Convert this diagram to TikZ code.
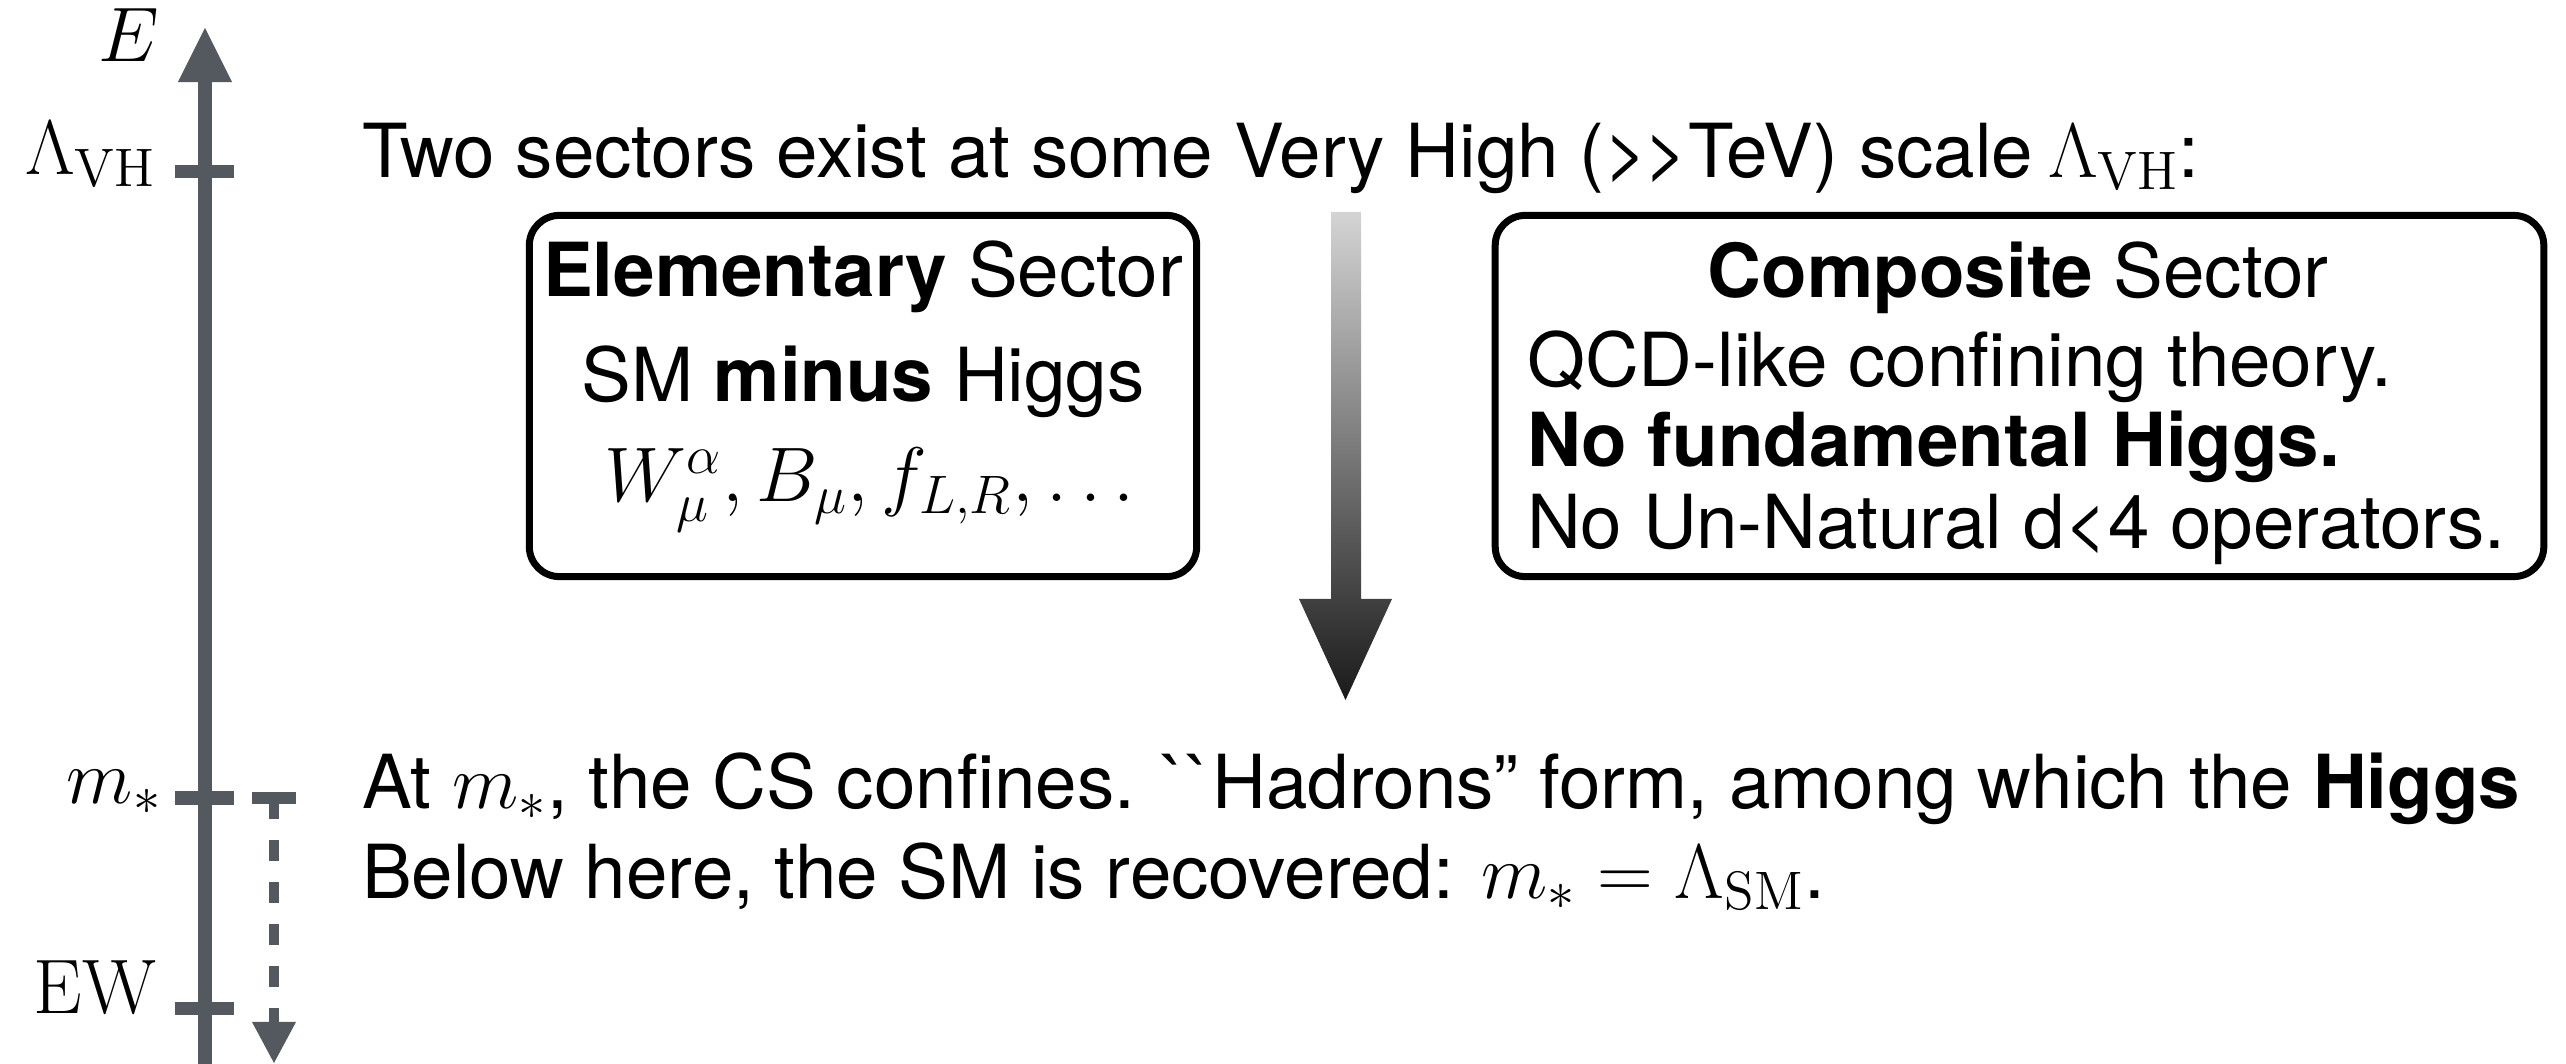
\documentclass[tikz,border=0pt]{standalone}
\usepackage{fix-cm}
\usepackage[no-math]{fontspec}
\setmainfont{TeX Gyre Heros}
\newfontfamily\rawheros{TeX Gyre Heros}[Ligatures=TeXOff]
\usetikzlibrary{arrows.meta}
\definecolor{axisgray}{RGB}{84,89,95}
\definecolor{gtop}{RGB}{212,212,212}
\definecolor{gbot}{RGB}{26,26,26}
\newcommand\mth[1]{{\fontsize{22}{26}\selectfont$#1$}}
\tikzset{
  every node/.style={font=\fontsize{21.2}{25}\selectfont, inner sep=0pt, outer sep=0pt},
  sectorbox/.style={draw=black, line width=0.07cm, rounded corners=0.3cm, fill=none},
  axisline/.style={draw=axisgray, line width=0.14cm, -{Triangle[width=0.54cm,length=0.54cm,line width=0pt]}},
  tickline/.style={draw=axisgray, line width=0.13cm},
  dashline/.style={draw=axisgray, line width=0.10cm, dash pattern=on 0.21cm off 0.21cm, -{Triangle[width=0.44cm,length=0.41cm,line width=0pt]}},
  barline/.style={draw=axisgray, line width=0.11cm},
}
\begin{document}
\begin{tikzpicture}[x=0.01cm, y=-0.01cm]
\useasboundingbox (0,0) rectangle (2566,1064);
% energy axis
\coordinate (axbot) at (205,1064);
\coordinate (axtop) at (205,28);
\draw[axisline] (axbot) -- (axtop);
% ticks
\coordinate (tVHl) at (175,172); \coordinate (tVHr) at (234,172);
\coordinate (tMl) at (175,798);  \coordinate (tMr) at (234,798);
\coordinate (tEWl) at (175,1008); \coordinate (tEWr) at (234,1008);
\draw[tickline] (tVHl) -- (tVHr);
\draw[tickline] (tMl) -- (tMr);
\draw[tickline] (tEWl) -- (tEWr);
% axis labels
\node[anchor=base east] (lblE) at (159,62) {\mth{E}};
\node[anchor=base east] (lblVH) at (156,175) {\mth{\Lambda_{\rm VH}}};
\node[anchor=base east] (lblM) at (162,803) {\mth{m_*}};
\node[anchor=base east] (lblEW) at (157,1013) {\mth{\rm EW}};
% dashed arrow
\coordinate (dbl) at (252,798); \coordinate (dbr) at (296,798);
\coordinate (dtop) at (274,798); \coordinate (dbot) at (274,1063);
\draw[barline] (dbl) -- (dbr);
\draw[dashline] (dtop) -- (dbot);
% title
\node[anchor=base west] (title) at (362,178) {Two sectors exist at some Very High (>\kern-0.05em>TeV) scale\kern0.2em\mth{\Lambda_{\rm VH}}:};
% elementary sector
\node[sectorbox, minimum width=6.67cm, minimum height=3.61cm] (elem) at (863,396) {};
\node[anchor=base] (e1) at (863,297) {\textbf{Elementary} Sector};
\node[anchor=base] (e2) at (863,402) {SM \textbf{minus} Higgs};
\node[anchor=base] (e3) at (870,502) {\mth{W^\alpha_\mu, B_\mu, f_{L,R}, \dots}};
% gradient arrow
\shade[top color=gtop, bottom color=gbot] (1331,212) -- (1361,212) -- (1361,599) -- (1392,599) -- (1345.5,700) -- (1299,599) -- (1331,599) -- cycle;
% composite sector
\node[sectorbox, minimum width=10.48cm, minimum height=3.61cm] (comp) at (2019.5,396) {};
\node[anchor=base] (c1) at (2018,298) {\textbf{Composite} Sector};
\node[anchor=base west] (c2) at (1527,387) {QCD-like confining theory.};
\node[anchor=base west] (c3) at (1527,467) {\textbf{No fundamental Higgs.}};
\node[anchor=base west] (c4) at (1527,548) {No Un-Natural d<4 operators.};
% bottom text
\node[anchor=base west] (b1) at (362,808) {At \mth{m_*}, the CS confines. {\rawheros``}Hadrons” form, among which the \textbf{Higgs}};
\node[anchor=base west] (b2) at (362,898) {Below here, the SM is recovered: \mth{m_* = \Lambda_{\rm SM}}.};
\end{tikzpicture}
\end{document}
